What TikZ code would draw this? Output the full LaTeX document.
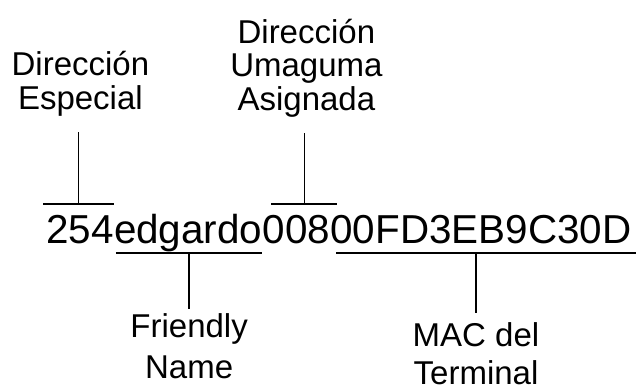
\documentclass[tikz,border=0pt]{standalone}
\usepackage{fontspec}
\setmainfont{Liberation Sans}
\usetikzlibrary{positioning,calc}

\tikzset{
  campo/.style={inner sep=0pt, anchor=base west, font=\fontsize{40.4}{40}\selectfont},
  etiqueta/.style={align=center, inner sep=0pt, font=\fontsize{33}{33.5}\selectfont},
  marca/.style={line width=1.5pt},
}

\begin{document}
\begin{tikzpicture}[x=1pt,y=-1pt]
  \useasboundingbox (0,0) rectangle (636,388);

  % dirección, campo por campo
  \node[campo] (esp) at (46,243) {254};
  \node[campo] (fn) at (esp.base east) {edgardo};
  \node[campo] (uma) at (fn.base east) {008};
  \node[campo] (mac) at (uma.base east) {00FD3EB9C30D};

  % corchetes sobre y bajo los campos
  \coordinate (espA) at ($(esp.base west)+(-3,-39)$);
  \coordinate (espB) at ($(esp.base east)+(0,-39)$);
  \coordinate (fnA) at ($(fn.base west)+(2,10)$);
  \coordinate (fnB) at ($(fn.base east)+(0,10)$);
  \coordinate (umaA) at ($(uma.base west)+(9,-39)$);
  \coordinate (umaB) at ($(uma.base east)+(7,-39)$);
  \coordinate (macA) at ($(mac.base west)+(6,10)$);
  \coordinate (macB) at (636,253);
  \draw[marca] (espA) -- (espB);
  \draw[marca] (fnA) -- (fnB);
  \draw[marca] (umaA) -- (umaB);
  \draw[marca] (macA) -- (macB);

  \coordinate (espM) at ($(espA)!0.5!(espB)$);
  \coordinate (fnM) at ($(fnA)!0.5!(fnB)$);
  \coordinate (umaM) at ($(umaA)!0.5!(umaB)$);
  \coordinate (macM) at (476,253);

  % etiquetas (base = última línea)
  \node[etiqueta, anchor=base] (lblEsp) at ($(espM |- 0,109)+(2,0)$) {Dirección\\Especial};
  \node[etiqueta, anchor=base] (lblUma) at ($(umaM |- 0,110)+(2,0)$) {Dirección\\Umaguma\\Asignada};
  \node[etiqueta, anchor=base, font=\fontsize{33}{41}\selectfont] (lblFn) at (fnM |- 0,378) {Friendly\\Name};
  \node[etiqueta, anchor=base, font=\fontsize{33}{38}\selectfont] (lblMac) at (macM |- 0,384) {MAC del\\Terminal};

  % trazos verticales
  \draw[marca, shorten >=16pt] (espM) -- (espM |- lblEsp.south);
  \draw[marca, shorten >=16pt] (umaM) -- (umaM |- lblUma.south);
  \draw[marca, shorten >=4pt] (fnM) -- (fnM |- lblFn.north);
  \draw[marca, shorten >=9pt] (macM) -- (macM |- lblMac.north);
\end{tikzpicture}
\end{document}
